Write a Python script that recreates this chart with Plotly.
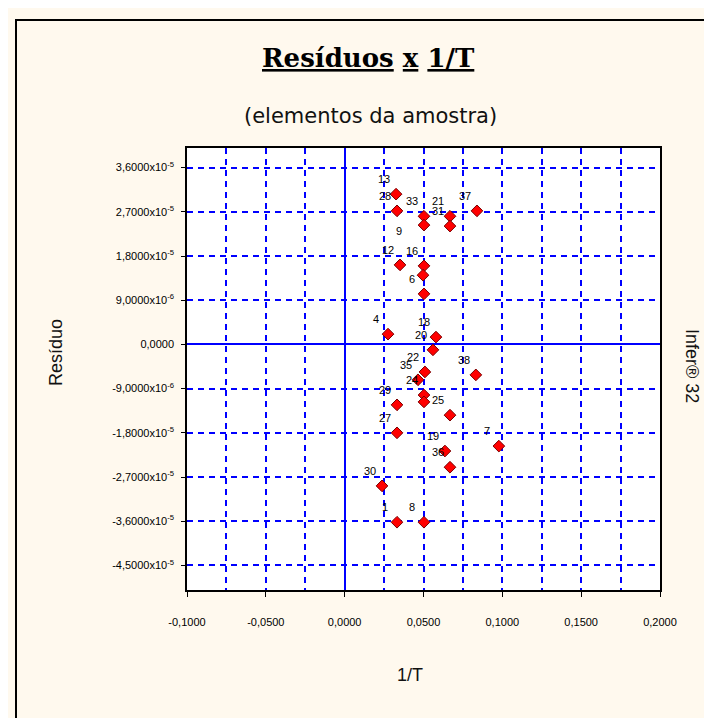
import plotly.graph_objects as go

# ---- data ----
labels = ["13", "28", "33", "9", "21", "31", "37", "12", "16", "", "6",
          "4", "18", "20", "22", "35", "38", "24", "", "29", "25", "27",
          "19", "7", "36", "30", "1", "8"]
inv_T = [0.0326, 0.0332, 0.0503, 0.0503, 0.0668, 0.0668, 0.0839, 0.0351, 0.0503, 0.0497, 0.0503,
         0.0275, 0.0579, 0.0560, 0.0509, 0.0465, 0.0832, 0.0503, 0.0503, 0.0332, 0.0668, 0.0332,
         0.0636, 0.0978, 0.0668, 0.0237, 0.0332, 0.0503]
residuo = [30.6e-6, 27.2e-6, 26.1e-6, 24.3e-6, 26.1e-6, 24.1e-6, 27.2e-6, 16.2e-6, 16.0e-6, 14.1e-6, 10.3e-6,
           2.1e-6, 1.5e-6, -1.1e-6, -5.6e-6, -7.2e-6, -6.2e-6, -10.3e-6, -11.7e-6, -12.3e-6, -14.4e-6, -18.0e-6,
           -21.7e-6, -20.7e-6, -25.0e-6, -28.8e-6, -36.2e-6, -36.2e-6]

x_tickvals = [-0.1, -0.05, 0.0, 0.05, 0.1, 0.15, 0.2]
x_ticktext = ["-0,1000", "-0,0500", "0,0000", "0,0500", "0,1000", "0,1500", "0,2000"]
y_tickvals = [3.6e-5, 2.7e-5, 1.8e-5, 9e-6, 0.0, -9e-6, -1.8e-5, -2.7e-5, -3.6e-5, -4.5e-5]
y_ticktext = ["3,6000x10<sup>-5</sup>", "2,7000x10<sup>-5</sup>", "1,8000x10<sup>-5</sup>",
              "9,0000x10<sup>-6</sup>", "0,0000", "-9,0000x10<sup>-6</sup>",
              "-1,8000x10<sup>-5</sup>", "-2,7000x10<sup>-5</sup>", "-3,6000x10<sup>-5</sup>",
              "-4,5000x10<sup>-5</sup>"]

# ---- layout geometry (pixels) ----
W, H = 712, 718
L, R, T, B = 179, 652, 140, 582
PW, PH = R - L, B - T


def px(x):
    return (x - L) / PW


def py(y):
    return (B - y) / PH


BLUE = "#0000FF"
BG = "#FFF9EE"

fig = go.Figure()
fig.add_trace(go.Scatter(
    x=inv_T, y=residuo, mode="markers",
    marker=dict(symbol="diamond", size=9, color="#FF0000",
                line=dict(color="#7A0000", width=1)),
    hoverinfo="x+y", showlegend=False, cliponaxis=False))

# point labels (offset up-left of each point)
label_shift = {"9": (-25, -6)}
annotations = []
for lab, xv, yv in zip(labels, inv_T, residuo):
    if not lab:
        continue
    dx, dy = label_shift.get(lab, (-12, 15))
    annotations.append(dict(x=xv, y=yv, xref="x", yref="y", text=lab, showarrow=False,
                            xshift=dx, yshift=dy, xanchor="center", yanchor="middle",
                            font=dict(family="Liberation Sans", size=11, color="#000000")))

annotations += [
    dict(x=px(360), y=py(50), xref="paper", yref="paper",
         text="<b><u>Resíduos</u> <u>x</u> <u>1/T</u></b>", showarrow=False,
         xanchor="center", yanchor="middle",
         font=dict(family="DejaVu Serif", size=26, color="#000000")),
    dict(x=px(362), y=py(108), xref="paper", yref="paper",
         text="(elementos da amostra)", showarrow=False,
         xanchor="center", yanchor="middle",
         font=dict(family="DejaVu Sans", size=21, color="#111111")),
    dict(x=px(48), y=py(345), xref="paper", yref="paper", text="Resíduo",
         textangle=-90, showarrow=False, xanchor="center", yanchor="middle",
         font=dict(family="Liberation Sans", size=18, color="#111111")),
    dict(x=px(402), y=py(667), xref="paper", yref="paper", text="1/T",
         showarrow=False, xanchor="center", yanchor="middle",
         font=dict(family="Liberation Sans", size=18, color="#111111")),
    dict(x=px(684), y=py(358), xref="paper", yref="paper", text="Infer® 32",
         textangle=90, showarrow=False, xanchor="center", yanchor="middle",
         font=dict(family="Liberation Sans", size=18, color="#111111")),
]

fig.update_layout(
    width=W, height=H,
    margin=dict(l=L, r=W - R, t=T, b=H - B, autoexpand=False),
    paper_bgcolor=BG, plot_bgcolor="#FFFFFF",
    annotations=annotations,
    shapes=[dict(type="rect", xref="paper", yref="paper",
                 x0=px(8), y0=py(760), x1=px(760), y1=py(12),
                 line=dict(color="#000000", width=2), layer="below")],
    xaxis=dict(range=[-0.1, 0.2], tickvals=x_tickvals, ticktext=x_ticktext,
               showgrid=True, gridcolor=BLUE, gridwidth=2, griddash="6px,5px",
               minor=dict(dtick=0.025, tick0=0, showgrid=True, gridcolor=BLUE,
                          gridwidth=2, griddash="6px,5px"),
               zeroline=True, zerolinecolor=BLUE, zerolinewidth=2,
               showline=True, linecolor="#000000", linewidth=1.5, mirror=True,
               ticks="outside", ticklen=5, tickcolor="#000000",
               ticklabelstandoff=16,
               tickfont=dict(family="Liberation Sans", size=11, color="#000000")),
    yaxis=dict(range=[-5e-5, 4e-5], tickvals=y_tickvals, ticktext=y_ticktext,
               showgrid=True, gridcolor=BLUE, gridwidth=2, griddash="6px,5px",
               zeroline=True, zerolinecolor=BLUE, zerolinewidth=2,
               showline=True, linecolor="#000000", linewidth=1.5, mirror=True,
               ticks="outside", ticklen=4, tickcolor="#000000",
               ticklabelstandoff=5,
               tickfont=dict(family="Liberation Sans", size=11, color="#000000")),
)

fig.write_html("out.html")
